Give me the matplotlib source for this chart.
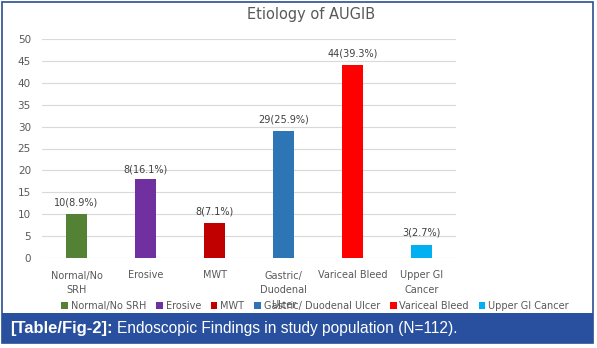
import matplotlib.pyplot as plt
from matplotlib.patches import Rectangle

categories = ["Normal/No\nSRH", "Erosive", "MWT", "Gastric/\nDuodenal\nUlcer",
              "Variceal Bleed", "Upper GI\nCancer"]
legend_names = ["Normal/No SRH", "Erosive", "MWT", "Gastric/ Duodenal Ulcer",
                "Variceal Bleed", "Upper GI Cancer"]
counts = [10, 18, 8, 29, 44, 3]
bar_labels = ["10(8.9%)", "8(16.1%)", "8(7.1%)", "29(25.9%)", "44(39.3%)", "3(2.7%)"]
colors = ["#548235", "#7030a0", "#c00000", "#2e75b6", "#ff0000", "#00b0f0"]

fig = plt.figure(figsize=(5.97, 3.48), dpi=100)
W, H = 597, 348

# frame and caption bar
fig.patches.append(Rectangle((2 / W, 5 / H), 591 / W, 341 / H, transform=fig.transFigure,
                             fill=False, edgecolor="#2b4f8e", linewidth=1.2))
fig.patches.append(Rectangle((2 / W, 5 / H), 591 / W, 30 / H, transform=fig.transFigure,
                             facecolor="#28509e", edgecolor="none"))
tag = fig.text(10 / W, 20 / H, "[Table/Fig-2]:", color="white", fontsize=12,
               fontweight="bold", family="Liberation Sans", va="center")
fig.canvas.draw()
tag_end = tag.get_window_extent().x1
fig.text((tag_end + 4) / W, 20 / H, "Endoscopic Findings in study population (N=112).",
         color="white", fontsize=11.2, family="Liberation Sans", va="center")

ax = fig.add_axes([42 / W, 90 / H, 414 / W, 219 / H])
x = range(len(counts))
bars = ax.bar(x, counts, width=0.3, color=colors, zorder=3)
ax.set_xlim(-0.5, len(counts) - 0.5)
ax.set_ylim(0, 50)
ax.set_yticks(range(0, 51, 5))
ax.set_xticks(list(x))
ax.set_xticklabels(categories, fontsize=7, color="#595959", linespacing=1.6)
ax.tick_params(axis="y", labelsize=7.5, colors="#595959", length=0, pad=8)
ax.tick_params(axis="x", length=0, pad=9)
ax.grid(axis="y", color="#d9d9d9", linewidth=0.8, zorder=0)
for s in ax.spines.values():
    s.set_visible(False)

for i, (b, lab) in enumerate(zip(bars, bar_labels)):
    off = 3 if i == 1 else 5
    ax.annotate(lab, (b.get_x() + b.get_width() / 2, b.get_height()),
                xytext=(0, off), textcoords="offset points", ha="center",
                va="bottom", fontsize=7, color="#404040")

fig.text(311 / W, 1 - 14 / H, "Etiology of AUGIB", ha="center", va="center",
         fontsize=10.5, color="#595959")

fig.legend(bars, legend_names, loc="center", bbox_to_anchor=(315 / W, 42 / H),
           ncol=6, frameon=False, fontsize=7, handlelength=0.7, handleheight=0.7,
           handletextpad=0.3, columnspacing=1.0, labelcolor="#595959")

plt.savefig("out.png", dpi=100)
